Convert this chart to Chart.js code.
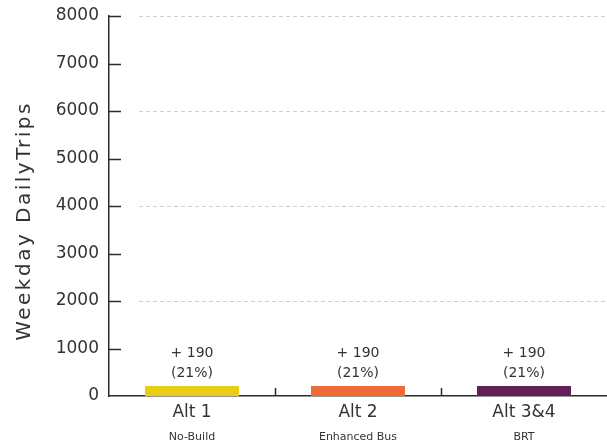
<!DOCTYPE html>
<html>
<head>
<meta charset="utf-8">
<script src="https://cdn.jsdelivr.net/npm/chart.js@4"></script>
<style>
  html, body { margin: 0; padding: 0; background: #fff; }
  #wrap { width: 607px; height: 446px; position: relative; }
</style>
</head>
<body>
<div id="wrap"><canvas id="tripsChart" width="607" height="446"></canvas></div>
<script>
// data
const categories = ['Alt 1', 'Alt 2', 'Alt 3&4'];
const subLabels = ['No-Build', 'Enhanced Bus', 'BRT'];
const tripValues = [210, 210, 210];
const deltaLabels = ['+ 190', '+ 190', '+ 190'];
const pctLabels = ['(21%)', '(21%)', '(21%)'];
const barColors = ['#E9CE16', '#F06A38', '#631E57'];
const yMax = 8000;
const yStep = 1000;
const gridValues = [2000, 4000, 6000, 8000];
const yTitle = 'Weekday DailyTrips';

const FONT = 'DejaVu Sans';
const TEXT = '#333333';
const AXIS = '#2b2b2b';

// extra drawing: dashed grid, inner ticks, labels above bars, sub labels, axis title
const extras = {
  id: 'extras',
  beforeDatasetsDraw(chart) {
    const { ctx, chartArea, scales: { y } } = chart;
    ctx.save();
    ctx.strokeStyle = '#cfcfcf';
    ctx.lineWidth = 1;
    ctx.setLineDash([4, 3]);
    gridValues.forEach(v => {
      const py = Math.round(y.getPixelForValue(v)) + 0.5;
      ctx.beginPath();
      ctx.moveTo(chartArea.left + 30, py);
      ctx.lineTo(chartArea.right, py);
      ctx.stroke();
    });
    ctx.restore();
  },
  afterDraw(chart) {
    const { ctx, chartArea, scales: { x, y } } = chart;
    ctx.save();
    ctx.strokeStyle = AXIS;
    ctx.lineWidth = 1.5;
    // y ticks pointing inward
    for (let v = yStep; v <= yMax; v += yStep) {
      const py = Math.round(y.getPixelForValue(v)) + 0.5;
      ctx.beginPath();
      ctx.moveTo(chartArea.left, py);
      ctx.lineTo(chartArea.left + 12, py);
      ctx.stroke();
    }
    // x ticks between categories
    for (let i = 0; i < categories.length - 1; i++) {
      const px = Math.round((x.getPixelForValue(i) + x.getPixelForValue(i + 1)) / 2) + 0.5;
      ctx.beginPath();
      ctx.moveTo(px, chartArea.bottom);
      ctx.lineTo(px, chartArea.bottom - 8);
      ctx.stroke();
    }
    // value labels
    ctx.fillStyle = TEXT;
    ctx.textAlign = 'center';
    ctx.textBaseline = 'middle';
    ctx.font = '14px "' + FONT + '"';
    const meta = chart.getDatasetMeta(0);
    meta.data.forEach((bar, i) => {
      ctx.fillText(deltaLabels[i], bar.x, bar.y - 33);
      ctx.fillText(pctLabels[i], bar.x, bar.y - 13);
    });
    // sub labels under category names
    ctx.font = '11px "' + FONT + '"';
    subLabels.forEach((s, i) => {
      ctx.fillText(s, x.getPixelForValue(i), 437);
    });
    // y axis title, spaced out to match the wide original face
    ctx.font = '20px "' + FONT + '"';
    ctx.letterSpacing = '2.5px';
    ctx.translate(25, (chartArea.top + chartArea.bottom) / 2 + 15);
    ctx.rotate(-Math.PI / 2);
    ctx.fillText(yTitle, 0, 0);
    ctx.restore();
  }
};

const ctx = document.getElementById('tripsChart').getContext('2d');
new Chart(ctx, {
  type: 'bar',
  data: {
    labels: categories,
    datasets: [{
      data: tripValues,
      backgroundColor: barColors,
      borderWidth: 0,
      barPercentage: 0.566,
      categoryPercentage: 1
    }]
  },
  options: {
    responsive: false,
    animation: false,
    layout: { padding: { top: 16, left: 0, right: 0, bottom: 0 } },
    plugins: {
      legend: { display: false },
      tooltip: { enabled: false }
    },
    scales: {
      x: {
        grid: { display: false, drawTicks: false },
        border: { display: true, color: AXIS, width: 1.5 },
        ticks: { color: TEXT, font: { family: FONT, size: 17 }, padding: 6, maxRotation: 0 },
        afterFit(scale) { scale.height = 50; }
      },
      y: {
        min: 0,
        max: yMax,
        grid: { display: false, drawTicks: false },
        border: { display: true, color: AXIS, width: 1.5 },
        ticks: {
          stepSize: yStep,
          color: TEXT,
          font: { family: FONT, size: 17 },
          padding: 10,
          callback: v => String(v)
        },
        afterFit(scale) {
          scale.width = 109;
          scale.paddingTop = 0;
          scale.paddingBottom = 0;
        }
      }
    }
  },
  plugins: [extras]
});
</script>
</body>
</html>
